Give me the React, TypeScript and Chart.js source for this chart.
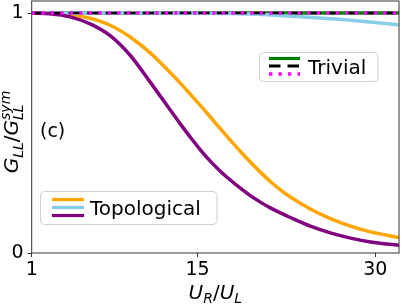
import { useEffect, useRef } from "react";
import { Chart, registerables } from "chart.js";

Chart.register(...registerables);

const X_MIN = 1;
const X_MAX = 32;
const Y_MIN = 0;
const Y_MAX = 1.05;
const X_TICKS = [1, 15, 30];
const Y_TICKS = [0, 1];

const ORANGE_X = [1, 3, 4.3, 5.93, 7.62, 9.31, 11.0, 12.69, 13.54, 14.38, 15.23, 16.07, 16.92, 17.76, 18.61, 19.45, 20.3, 21.14, 21.99, 22.83, 24.52, 26.21, 27.91, 29.6, 31.29, 32];
const ORANGE_Y = [1, 0.998, 0.993, 0.978, 0.949, 0.9, 0.834, 0.752, 0.708, 0.662, 0.615, 0.567, 0.518, 0.47, 0.423, 0.379, 0.337, 0.298, 0.263, 0.233, 0.183, 0.143, 0.112, 0.088, 0.071, 0.065];

const PURPLE_X = [1, 2.55, 4.24, 5.93, 7.62, 9.31, 11.0, 12.69, 13.54, 14.38, 15.23, 16.07, 16.92, 17.76, 18.61, 19.45, 20.3, 21.14, 21.99, 22.83, 24.52, 26.21, 27.91, 29.6, 32];
const PURPLE_Y = [1, 0.997, 0.984, 0.955, 0.906, 0.824, 0.712, 0.596, 0.538, 0.483, 0.43, 0.383, 0.341, 0.304, 0.27, 0.239, 0.212, 0.188, 0.167, 0.148, 0.112, 0.084, 0.062, 0.046, 0.032];

const BLUE_X = [1, 10, 15.23, 17, 19.45, 23.5, 27.9, 32];
const BLUE_Y = [1, 1, 0.999, 0.998, 0.996, 0.985, 0.97, 0.95];

const TRIVIAL_X = [1, 32];
const GREEN_Y = [1, 1];
const BLACK_Y = [1, 1];
const MAGENTA_Y = [1, 1];

const LEGEND_TOPO = "Topological";
const LEGEND_TRIV = "Trivial";
const PANEL_TAG = "(c)";

const ORANGE = "#FFA500";
const SKY = "#87CEEB";
const PURPLE = "#800080";
const GREEN = "#008000";
const BLACK = "#000000";
const MAGENTA = "#FF00FF";

const FONT = '"DejaVu Sans"';
const BLACK_DASH = [11.5, 7];
const DOT_DASH = [3.3, 6.2];

const pts = (xs: number[], ys: number[]) => xs.map((x, i) => ({ x, y: ys[i] }));

type Seg = { t: string; size: number; italic: boolean; dy: number; stack?: boolean };

function drawMath(ctx: CanvasRenderingContext2D, segs: Seg[], startX: number) {
  let x = startX;
  let i = 0;
  while (i < segs.length) {
    const s = segs[i];
    ctx.font = `${s.italic ? "italic " : ""}${s.size}px ${FONT}`;
    ctx.fillText(s.t, x, s.dy);
    let w = ctx.measureText(s.t).width;
    if (s.stack && i + 1 < segs.length) {
      const n = segs[i + 1];
      ctx.font = `${n.italic ? "italic " : ""}${n.size}px ${FONT}`;
      ctx.fillText(n.t, x, n.dy);
      w = Math.max(w, ctx.measureText(n.t).width);
      i += 1;
    }
    x += w;
    i += 1;
  }
}

function mathWidth(ctx: CanvasRenderingContext2D, segs: Seg[]) {
  let total = 0;
  let i = 0;
  while (i < segs.length) {
    const s = segs[i];
    ctx.font = `${s.italic ? "italic " : ""}${s.size}px ${FONT}`;
    let w = ctx.measureText(s.t).width;
    if (s.stack && i + 1 < segs.length) {
      const n = segs[i + 1];
      ctx.font = `${n.italic ? "italic " : ""}${n.size}px ${FONT}`;
      w = Math.max(w, ctx.measureText(n.t).width);
      i += 1;
    }
    total += w;
    i += 1;
  }
  return total;
}

function box(ctx: CanvasRenderingContext2D, x: number, y: number, w: number, h: number, r: number) {
  ctx.beginPath();
  ctx.moveTo(x + r, y);
  ctx.lineTo(x + w - r, y);
  ctx.arcTo(x + w, y, x + w, y + r, r);
  ctx.lineTo(x + w, y + h - r);
  ctx.arcTo(x + w, y + h, x + w - r, y + h, r);
  ctx.lineTo(x + r, y + h);
  ctx.arcTo(x, y + h, x, y + h - r, r);
  ctx.lineTo(x, y + r);
  ctx.arcTo(x, y, x + r, y, r);
  ctx.closePath();
  ctx.fillStyle = "rgba(255,255,255,0.8)";
  ctx.fill();
  ctx.strokeStyle = "#d0d0d0";
  ctx.lineWidth = 1;
  ctx.stroke();
}

function handle(ctx: CanvasRenderingContext2D, x0: number, x1: number, y: number, color: string, lw: number, dash: number[]) {
  ctx.beginPath();
  ctx.setLineDash(dash);
  ctx.lineCap = "butt";
  ctx.strokeStyle = color;
  ctx.lineWidth = lw;
  ctx.moveTo(x0, y);
  ctx.lineTo(x1, y);
  ctx.stroke();
  ctx.setLineDash([]);
}

const decor = {
  id: "decor",
  afterDatasetsDraw(chart: any) {
    const ctx: CanvasRenderingContext2D = chart.ctx;
    const a = chart.chartArea;
    ctx.save();
    ctx.strokeStyle = "#333";
    ctx.lineWidth = 1;
    ctx.strokeRect(a.left, a.top, a.right - a.left, a.bottom - a.top);

    ctx.fillStyle = "#000";
    ctx.textBaseline = "alphabetic";
    ctx.textAlign = "left";

    const xl: Seg[] = [
      { t: "U", size: 20, italic: true, dy: 0 },
      { t: "R", size: 14, italic: true, dy: 4 },
      { t: "/", size: 20, italic: false, dy: 0 },
      { t: "U", size: 20, italic: true, dy: 0 },
      { t: "L", size: 14, italic: true, dy: 4 },
    ];
    const xw = mathWidth(ctx, xl);
    ctx.save();
    ctx.translate((a.left + a.right) / 2 - xw / 2, 298.5);
    drawMath(ctx, xl, 0);
    ctx.restore();

    const yl: Seg[] = [
      { t: "G", size: 20, italic: true, dy: 0 },
      { t: "LL", size: 14, italic: true, dy: 4.5 },
      { t: "/", size: 20, italic: false, dy: 0 },
      { t: "G", size: 20, italic: true, dy: 0 },
      { t: "sym", size: 14, italic: true, dy: -8, stack: true },
      { t: "LL", size: 14, italic: true, dy: 4.5 },
    ];
    const yw = mathWidth(ctx, yl);
    ctx.save();
    ctx.translate(18, 132);
    ctx.rotate(-Math.PI / 2);
    drawMath(ctx, yl, -yw / 2);
    ctx.restore();

    ctx.font = `19px ${FONT}`;
    ctx.fillStyle = "#000";
    ctx.fillText(PANEL_TAG, 40, 137);

    box(ctx, 259.5, 52.5, 118.5, 29, 4);
    handle(ctx, 269, 300, 58.5, GREEN, 3.2, []);
    handle(ctx, 269, 300, 66, BLACK, 3.2, BLACK_DASH);
    handle(ctx, 269, 300, 74, MAGENTA, 3.3, DOT_DASH);
    ctx.font = `20px ${FONT}`;
    ctx.fillStyle = "#000";
    ctx.fillText(LEGEND_TRIV, 308, 74);

    box(ctx, 40.5, 191.5, 176.5, 33, 4);
    handle(ctx, 52, 84, 199.5, ORANGE, 3.2, []);
    handle(ctx, 52, 84, 207.5, SKY, 3.2, []);
    handle(ctx, 52, 84, 215.5, PURPLE, 3.2, []);
    ctx.font = `20px ${FONT}`;
    ctx.fillStyle = "#000";
    ctx.fillText(LEGEND_TOPO, 90, 214.5);

    ctx.restore();
  },
};

export default function App() {
  const ref = useRef<HTMLCanvasElement>(null);
  useEffect(() => {
    const canvas = ref.current!;
    const common = { pointRadius: 0, pointHoverRadius: 0, fill: false, borderCapStyle: "butt" as const };
    const chart = new Chart(canvas, {
      type: "line",
      data: {
        datasets: [
          { ...common, label: "magenta", data: pts(TRIVIAL_X, MAGENTA_Y), borderColor: MAGENTA, borderWidth: 3.3, borderDash: DOT_DASH, order: 0 },
          { ...common, label: "black", data: pts(TRIVIAL_X, BLACK_Y), borderColor: BLACK, borderWidth: 2.5, borderDash: BLACK_DASH, order: 1 },
          { ...common, label: "purple", data: pts(PURPLE_X, PURPLE_Y), borderColor: PURPLE, borderWidth: 3.5, cubicInterpolationMode: "monotone", order: 2 },
          { ...common, label: "blue", data: pts(BLUE_X, BLUE_Y), borderColor: SKY, borderWidth: 3.5, cubicInterpolationMode: "monotone", order: 3 },
          { ...common, label: "orange", data: pts(ORANGE_X, ORANGE_Y), borderColor: ORANGE, borderWidth: 3.5, cubicInterpolationMode: "monotone", order: 4 },
          { ...common, label: "green", data: pts(TRIVIAL_X, GREEN_Y), borderColor: GREEN, borderWidth: 3.5, order: 5 },
        ],
      },
      options: {
        responsive: false,
        animation: false,
        devicePixelRatio: 1,
        layout: { padding: { top: 1, right: 3, left: 0, bottom: 0 } },
        plugins: { legend: { display: false }, tooltip: { enabled: false } },
        scales: {
          x: {
            type: "linear",
            min: X_MIN,
            max: X_MAX,
            afterBuildTicks: (s: any) => {
              s.ticks = X_TICKS.map((v) => ({ value: v }));
            },
            afterFit: (s: any) => {
              s.height = 51;
              s.paddingLeft = 0;
              s.paddingRight = 0;
              s.paddingTop = 0;
              s.paddingBottom = 0;
            },
            ticks: {
              autoSkip: false,
              maxRotation: 0,
              padding: 2,
              color: "#000",
              font: { family: "DejaVu Sans", size: 19 },
              callback: (v: any) => String(v),
            },
            grid: { drawOnChartArea: false, drawTicks: true, tickLength: 4, color: "#333", lineWidth: 1 },
            border: { display: false },
          },
          y: {
            type: "linear",
            min: Y_MIN,
            max: Y_MAX,
            afterBuildTicks: (s: any) => {
              s.ticks = Y_TICKS.map((v) => ({ value: v }));
            },
            afterFit: (s: any) => {
              s.width = 31.7;
              s.paddingLeft = 0;
              s.paddingRight = 0;
              s.paddingTop = 0;
              s.paddingBottom = 0;
            },
            ticks: {
              autoSkip: false,
              padding: 4,
              color: "#000",
              font: { family: "DejaVu Sans", size: 19 },
              callback: (v: any) => String(v),
            },
            grid: { drawOnChartArea: false, drawTicks: true, tickLength: 4, color: "#333", lineWidth: 1 },
            border: { display: false },
          },
        },
      },
      plugins: [decor],
    });
    return () => chart.destroy();
  }, []);
  return (
    <div style={{ position: "absolute", left: 0, top: 0, width: 402, height: 304, background: "#fff" }}>
      <canvas ref={ref} width={402} height={304} style={{ display: "block", width: 402, height: 304 }} />
    </div>
  );
}
